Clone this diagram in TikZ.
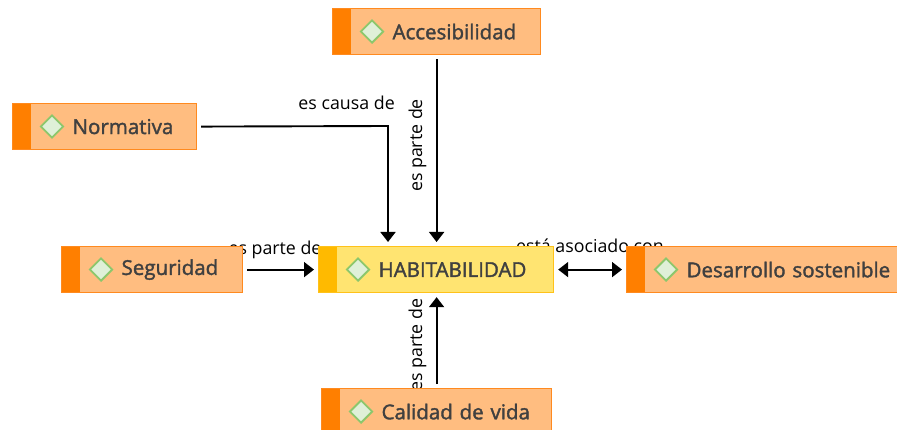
\documentclass[tikz,border=0pt]{standalone}
\usepackage{fontspec}
\setmainfont{Open Sans}
\newfontfamily\boxfont{Open Sans}[FakeBold=1.8]
\usetikzlibrary{arrows.meta,shapes.geometric}
\definecolor{peach}{HTML}{FFBD80}
\definecolor{peachline}{HTML}{FF8A1F}
\definecolor{stripor}{HTML}{FF7F00}
\definecolor{yel}{HTML}{FFE471}
\definecolor{yelline}{HTML}{FFC21A}
\definecolor{stripyel}{HTML}{FFBA00}
\definecolor{dfill}{HTML}{DFF0D8}
\definecolor{dline}{HTML}{8CC76C}
\definecolor{txt}{HTML}{404040}
\tikzset{
  concept/.style={rectangle,anchor=north west,fill=peach,draw=peachline,line width=1.2pt,
    minimum height=46pt,inner xsep=0pt,inner ysep=0pt,align=left,text=txt,
    font=\boxfont\fontsize{20.5}{23}\selectfont,
    path picture={\fill[stripor] (path picture bounding box.south west) rectangle ([xshift=18pt]path picture bounding box.north west);}},
  mainconcept/.style={concept,fill=yel,draw=yelline,
    path picture={\fill[stripyel] (path picture bounding box.south west) rectangle ([xshift=18pt]path picture bounding box.north west);}},
  diam/.style={diamond,draw=dline,fill=dfill,line width=1.8pt,minimum width=23pt,minimum height=23pt,inner sep=0pt},
  link/.style={line width=1.9pt,draw=black,shorten >=4pt,shorten <=4pt,-{Triangle[length=10pt,width=15pt]}},
  dlink/.style={link,{Triangle[length=10pt,width=15pt]}-{Triangle[length=10pt,width=15pt]}},
  lbl/.style={font=\fontsize{17.8}{20}\selectfont,text=black,inner sep=0pt}
}
\begin{document}
\begin{tikzpicture}[x=1pt,y=-1pt]
\useasboundingbox (0,0) rectangle (897,430);
% labels (behind boxes)
\node[lbl,anchor=base east] (l1) at (395,110) {es causa de};
\node[lbl,anchor=base,rotate=90] (l2) at (422,145.5) {es parte de};
\node[lbl,anchor=base] (l3) at (275,255) {es parte de};
\node[lbl,anchor=base] (l4) at (590,253) {está asociado con};
\node[lbl,anchor=base,rotate=90] (l5) at (422,345) {es parte de};
% boxes
\node[concept,text width=208pt,minimum width=208pt] (acc) at (332,8) {\hspace*{60pt}Accesibilidad};
\node[concept,text width=184pt,minimum width=184pt] (norm) at (12,103) {\hspace*{60pt}Normativa};
\node[concept,text width=181pt,minimum width=181pt] (seg) at (61,246) {\hspace*{60pt}Seguridad};
\node[mainconcept,text width=235pt,minimum width=235pt] (hab) at (318,246) {\hspace*{60pt}HABITABILIDAD};
\node[concept,text width=285pt,minimum width=285pt] (des) at (626,246) {\hspace*{60pt}Desarrollo sostenible};
\node[concept,text width=230pt,minimum width=230pt] (cal) at (321,388) {\hspace*{60pt}Calidad de vida};
% diamonds
\node[diam] (dacc) at ([xshift=40pt]acc.west) {};
\node[diam] (dnorm) at ([xshift=40pt]norm.west) {};
\node[diam] (dseg) at ([xshift=40pt]seg.west) {};
\node[diam] (dhab) at ([xshift=40pt]hab.west) {};
\node[diam] (ddes) at ([xshift=40pt]des.west) {};
\node[diam] (dcal) at ([xshift=40pt]cal.west) {};
% connectors
\coordinate (c1) at (388,126);
\draw[link] (norm.east) -- (c1) -- (c1 |- hab.north);
\draw[link] (acc.south) -- (acc.south |- hab.north);
\draw[link] (seg.east) -- (hab.west);
\draw[dlink] (hab.east) -- (des.west);
\draw[link] (cal.north) -- (cal.north |- hab.south);
\end{tikzpicture}
\end{document}
